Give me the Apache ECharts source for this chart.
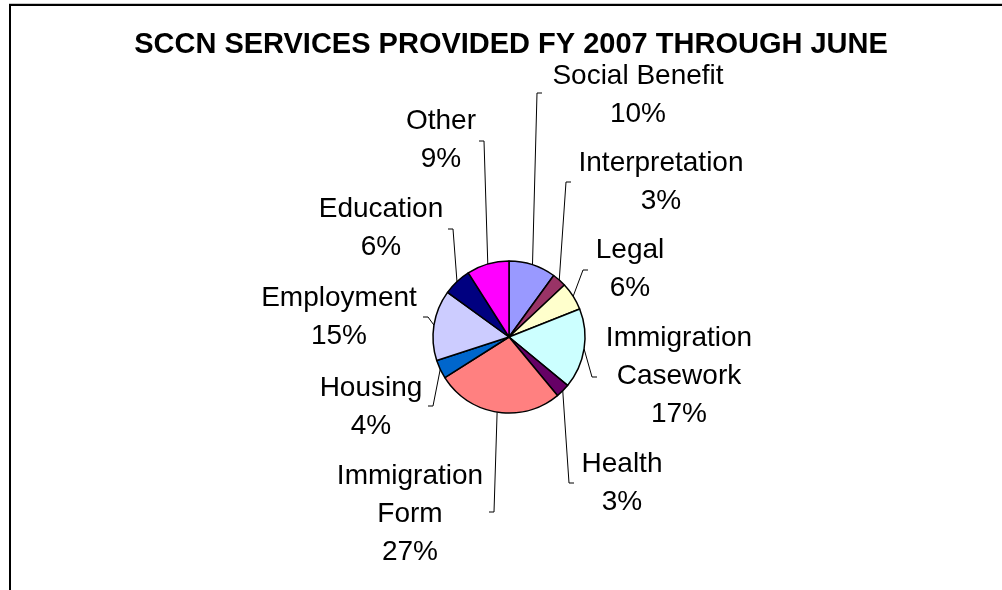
<!DOCTYPE html>
<html>
<head>
<meta charset="utf-8">
<script src="https://cdn.jsdelivr.net/npm/echarts@6/dist/echarts.min.js"></script>
<style>
  html, body { margin: 0; padding: 0; background: #fff; }
  #chart { position: absolute; left: 0; top: 0; width: 1002px; height: 590px; }
  #frameTop { position: absolute; left: 9px; top: 4px; width: 993px; height: 2px; background: #000; }
  #frameTopShade { position: absolute; left: 9px; top: 3px; width: 993px; height: 1px; background: #c8c8c8; }
  #frameLeft { position: absolute; left: 9px; top: 4px; width: 2px; height: 586px; background: #000; }
</style>
</head>
<body>
<div id="chart"></div>
<div id="frameTopShade"></div>
<div id="frameTop"></div>
<div id="frameLeft"></div>
<script>
// ---- data ----
const titleText = 'SCCN SERVICES PROVIDED FY 2007 THROUGH JUNE';
const categories = ['Social Benefit', 'Interpretation', 'Legal', 'Immigration Casework', 'Health',
                    'Immigration Form', 'Housing', 'Employment', 'Education', 'Other'];
const shares = [10, 3, 6, 17, 3, 27, 4, 15, 6, 9];

// ---- styles / layout ----
const sliceColors = ['#9999FF', '#993366', '#FFFFCC', '#CCFFFF', '#660066',
                     '#FF8080', '#0066CC', '#CCCCFF', '#000080', '#FF00FF'];
// label block centres (px) and leader-line elbow points (px), with tick direction
const labelCenters = [[638, 95], [661, 182], [630, 269], [679, 376], [622, 483],
                      [410, 514], [371, 407], [339, 317], [381, 228], [441, 140]];
const leaderElbows = [[537, 93], [566, 182], [583, 270], [592, 377], [569, 483],
                      [494, 512], [433, 406], [428, 317], [453, 229], [484, 141]];
const tickDir = [1, 1, 1, 1, 1, -1, -1, -1, -1, -1];

const chart = echarts.init(document.getElementById('chart'), null, { renderer: 'canvas' });
const option = {
  animation: false,
  backgroundColor: '#ffffff',
  title: {
    text: titleText,
    left: 506,
    top: 25,
    textAlign: 'center',
    textStyle: { fontFamily: 'Liberation Sans', fontWeight: 'bold', fontSize: 29, color: '#000' }
  },
  series: [{
    type: 'pie',
    center: [509, 337],
    radius: 76,
    startAngle: 90,
    clockwise: true,
    avoidLabelOverlap: false,
    silent: true,
    data: categories.map((c, i) => ({ name: c, value: shares[i], itemStyle: { color: sliceColors[i] } })),
    itemStyle: { borderColor: '#000', borderWidth: 1.5 },
    label: {
      show: true,
      position: 'outside',
      fontFamily: 'Liberation Sans',
      fontSize: 28,
      lineHeight: 38,
      color: '#000',
      align: 'center',
      formatter: p => p.name.replace('Immigration ', 'Immigration\n') + '\n' + Math.round(p.percent) + '%'
    },
    labelLine: { show: true, length: 10, length2: 5, smooth: false,
                 lineStyle: { color: '#000', width: 1 } },
    labelLayout: function (params) {
      const i = params.dataIndex;
      const c = labelCenters[i];
      const e = leaderElbows[i];
      const start = (params.labelLinePoints && params.labelLinePoints[0]) || e;
      return {
        x: c[0], y: c[1], align: 'center', verticalAlign: 'middle',
        labelLinePoints: [start, e, [e[0] + 5 * tickDir[i], e[1]]]
      };
    },
    emphasis: { disabled: true }
  }]
};
chart.setOption(option);
</script>
</body>
</html>
